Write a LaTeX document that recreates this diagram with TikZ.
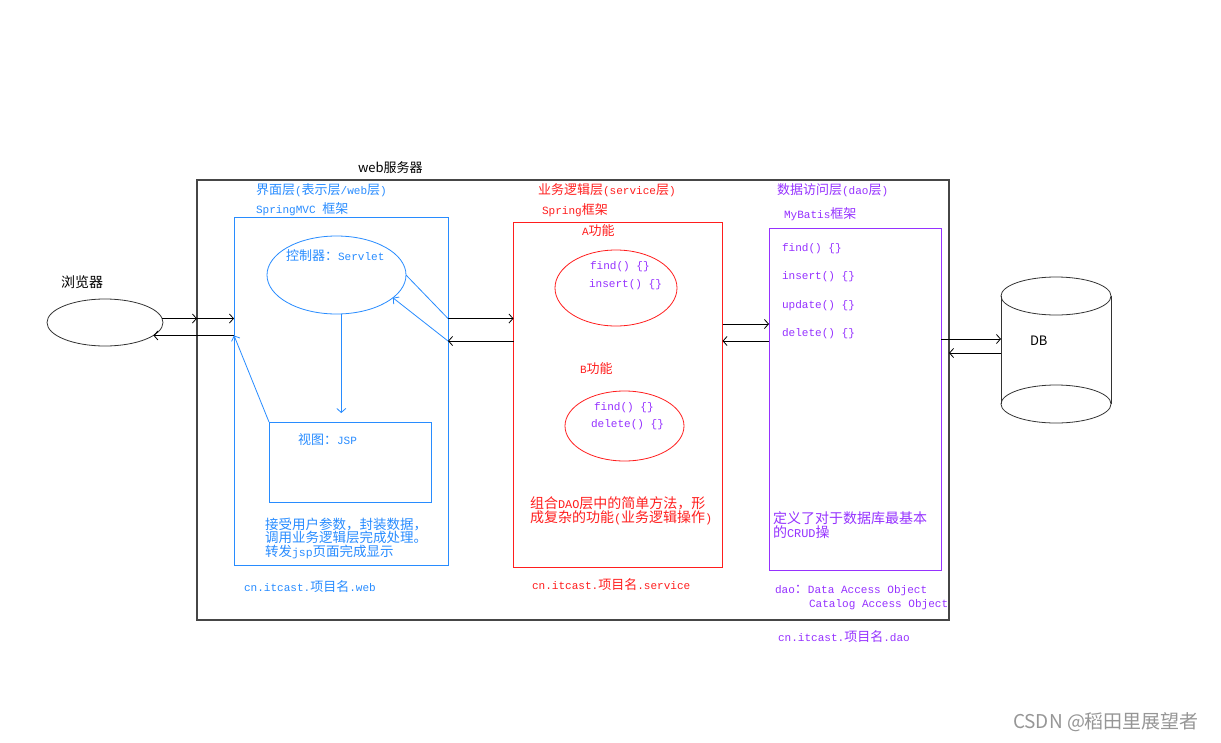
\documentclass[tikz,border=0pt]{standalone}
\usepackage{fontspec}
\setmainfont{Noto Sans CJK SC}
\newfontfamily\mlatf[Scale=0.85]{Liberation Mono}
\newcommand\ml[1]{{\mlatf #1}}
\usetikzlibrary{shapes.geometric,arrows.meta}
\definecolor{cblue}{RGB}{40,140,255}
\definecolor{cred}{RGB}{255,30,30}
\definecolor{cpur}{RGB}{150,50,255}
\definecolor{cgray}{RGB}{70,70,70}
\definecolor{wmark}{RGB}{150,150,150}
\begin{document}
\begin{tikzpicture}[x=1pt,y=-1pt,
  every node/.style={inner sep=0pt,outer sep=0pt},
  box/.style={draw,rectangle,line width=1pt},
  ell/.style={draw,ellipse,line width=0.8pt},
  lbl/.style={anchor=west,font=\fontsize{13}{13.5}\selectfont},
  arr/.style={-{Straight Barb[length=4pt,width=9pt]},line width=0.8pt},
]
\useasboundingbox (0,0) rectangle (1221,742);
\fill[white] (0,0) rectangle (1221,742);

% containers
\node[box,draw=cgray,line width=1.2pt,minimum width=752pt,minimum height=440pt] (web) at (573,400) {};
\node[lbl] (webl) at (358,168) {web服务器};

% browser
\node[ell,draw=black!80,minimum width=116pt,minimum height=47pt] (browser) at (105,322.5) {};
\node[lbl,font=\fontsize{14}{14}\selectfont] (brl) at (61,282) {浏览器};

% UI layer
\node[box,draw=cblue,minimum width=214pt,minimum height=348pt] (ui) at (341,391) {};
\node[lbl,text=cblue] (uil1) at (256,190) {界面层\ml{(}表示层\ml{/web}层\ml{)}};
\node[lbl,text=cblue] (uil2) at (256,209) {\ml{SpringMVC }框架};
\node[ell,draw=cblue,minimum width=139pt,minimum height=78pt] (ctrl) at (336.5,275) {};
\node[lbl,text=cblue] (ctrll) at (286,256) {控制器：\ml{Servlet}};
\node[box,draw=cblue,minimum width=162pt,minimum height=80pt] (jsp) at (350,462) {};
\node[lbl,text=cblue] (jspl) at (298,440) {视图：\ml{JSP}};
\node[anchor=north west,align=left,text=cblue,font=\fontsize{13.5}{13.5}\selectfont] (uidesc) at (265,518)
  {接受用户参数，封装数据，\\调用业务逻辑层完成处理。\\转发\ml{jsp}页面完成显示};
\node[lbl,text=cblue] (uipkg) at (244,587) {\ml{cn.itcast.}项目名\ml{.web}};

% service layer
\node[box,draw=cred,minimum width=209pt,minimum height=345pt] (svc) at (618,394.5) {};
\node[lbl,text=cred] (svcl1) at (538,190) {业务逻辑层\ml{(service}层\ml{)}};
\node[lbl,text=cred] (svcl2) at (542,210) {\ml{Spring}框架};
\node[lbl,text=cred] (al) at (582,231) {\ml{A}功能};
\node[ell,draw=cred,minimum width=122pt,minimum height=76pt] (ea) at (616,288) {};
\node[lbl,text=cpur] (ea1) at (590,267) {\ml{find() \{\}}};
\node[lbl,text=cpur] (ea2) at (589,285) {\ml{insert() \{\}}};
\node[lbl,text=cred] (bl) at (580,369) {\ml{B}功能};
\node[ell,draw=cred,minimum width=119pt,minimum height=70pt] (eb) at (624.5,426) {};
\node[lbl,text=cpur] (eb1) at (594,408) {\ml{find() \{\}}};
\node[lbl,text=cpur] (eb2) at (591,425) {\ml{delete() \{\}}};
\node[anchor=north west,align=left,text=cred,font=\fontsize{14}{13.5}\selectfont] (svcdesc) at (530,497)
  {组合\ml{DAO}层中的简单方法，形\\成复杂的功能\ml{(}业务逻辑操作\ml{)}};
\node[lbl,text=cred] (svcpkg) at (532,585) {\ml{cn.itcast.}项目名\ml{.service}};

% dao layer
\node[box,draw=cpur,minimum width=172pt,minimum height=342pt] (dao) at (855,399) {};
\node[lbl,text=cpur] (daol1) at (777,190) {数据访问层\ml{(dao}层\ml{)}};
\node[lbl,text=cpur] (daol2) at (784,214) {\ml{MyBatis}框架};
\node[lbl,text=cpur] (d1) at (782,249) {\ml{find() \{\}}};
\node[lbl,text=cpur] (d2) at (782,277) {\ml{insert() \{\}}};
\node[lbl,text=cpur] (d3) at (782,306) {\ml{update() \{\}}};
\node[lbl,text=cpur] (d4) at (782,334) {\ml{delete() \{\}}};
\node[anchor=north west,align=left,text=cpur,font=\fontsize{14}{13.5}\selectfont] (daodesc) at (773,512)
  {定义了对于数据库最基本\\的\ml{CRUD}操};
\node[lbl,text=cpur] (daoab1) at (775,591) {\ml{dao}：\ml{Data Access Object}};
\node[lbl,text=cpur] (daoab2) at (809,605) {\ml{Catalog Access Object}};
\node[lbl,text=cpur] (daopkg) at (778,637) {\ml{cn.itcast.}项目名\ml{.dao}};

% DB cylinder
\node[minimum width=110pt,minimum height=108pt] (db) at (1056,350) {};
\draw[black!80,line width=0.8pt] (db.north) ellipse [x radius=55, y radius=19];
\draw[black!80,line width=0.8pt] (db.south) ellipse [x radius=55, y radius=19];
\draw[black!80,line width=0.8pt] (db.north west) -- (db.south west);
\draw[black!80,line width=0.8pt] (db.north east) -- (db.south east);
\node[lbl] (dbl) at (1030,341) {DB};

% levels
\coordinate (yc) at (0,341);
\coordinate (yd) at (0,324);
\coordinate (yf) at (0,339);
\coordinate (yg) at (0,353);

% black connectors
\draw[arr] (browser.4) -- (web.west |- browser.4);
\draw[arr] (web.west |- browser.4) -- (ui.west |- browser.4);
\draw[arr] (ui.west |- browser.-15) -- (browser.-15);
\draw[arr] (ui.east |- browser.4) -- (svc.west |- browser.4);
\draw[arr] (svc.west |- yc) -- (ui.east |- yc);
\draw[arr] (svc.east |- yd) -- (dao.west |- yd);
\draw[arr] (dao.west |- yc) -- (svc.east |- yc);
\draw[arr] (dao.east |- yf) -- (db.west |- yf);
\draw[arr] (db.west |- yg) -- (web.east |- yg);

% blue connectors
\draw[cblue,line width=0.8pt] (ctrl.east) -- (ui.east |- browser.4);
\draw[arr,cblue] (ui.east |- yc) -- (ctrl.-22);
\draw[arr,cblue,shorten >=9pt] (ctrl.-83) -- (ctrl.-83 |- jsp.north);
\draw[arr,cblue] (jsp.north west) -- (ui.west |- browser.-15);

% watermark
\node[anchor=west,text=wmark,font=\fontsize{19}{19}\selectfont] (wm) at (1013,722) {CSDN @稻田里展望者};
\end{tikzpicture}
\end{document}
